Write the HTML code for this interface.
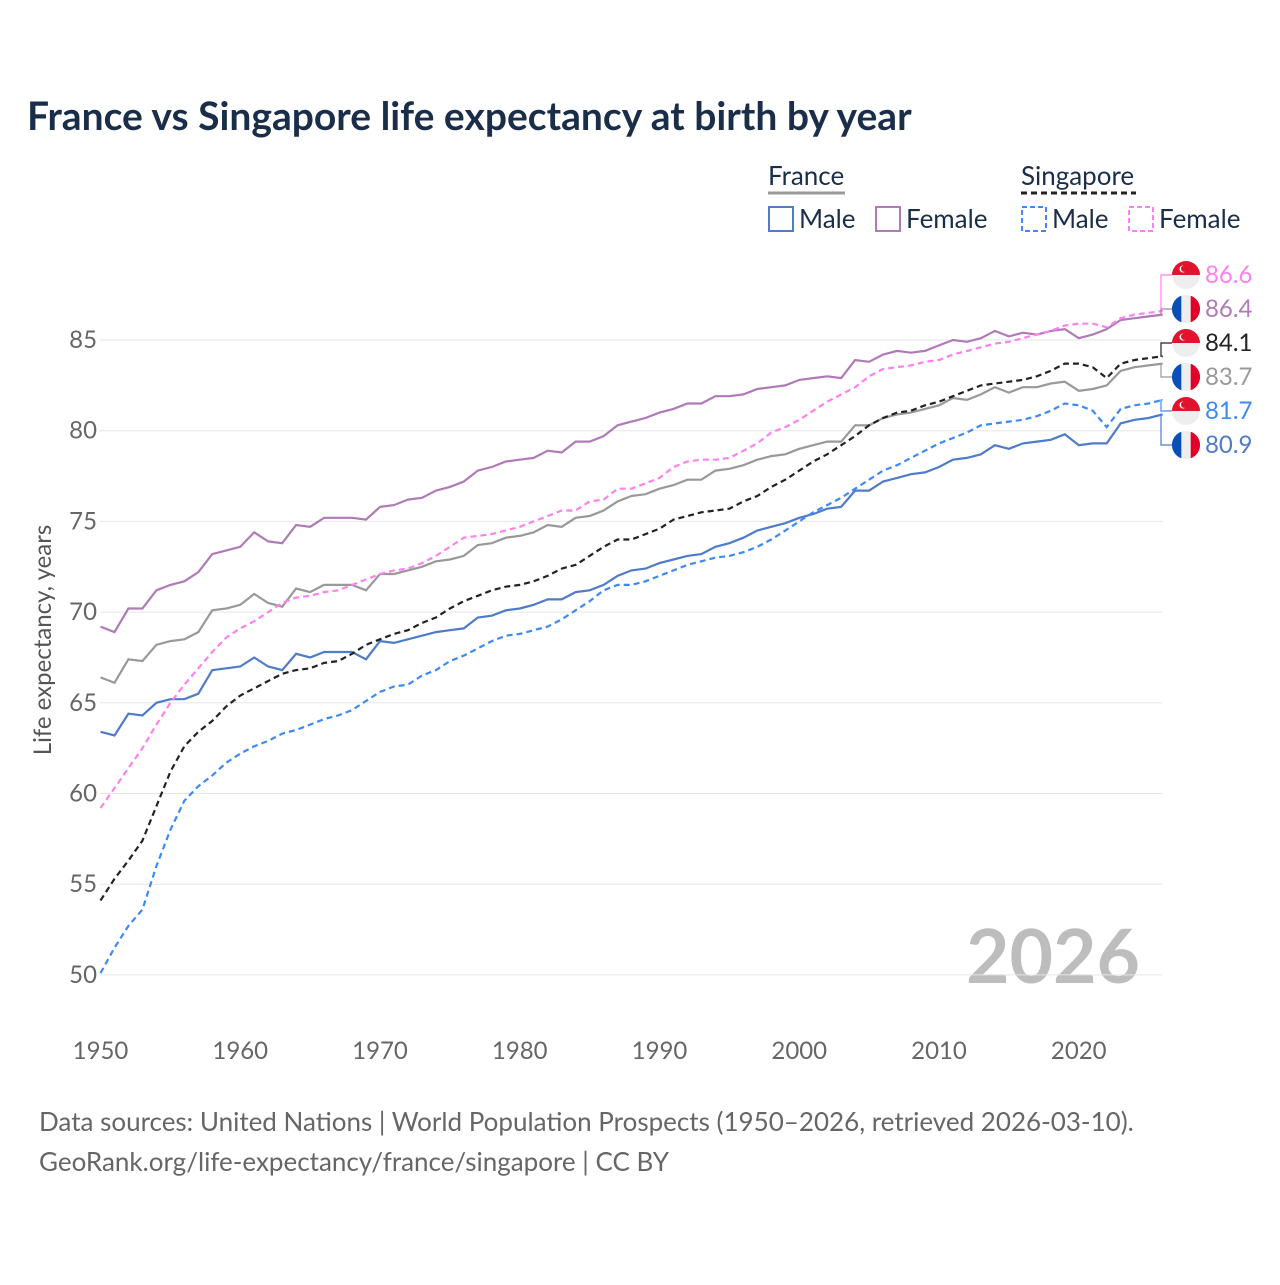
<!DOCTYPE html>
<html><head><meta charset="utf-8"><style>
body{margin:0;background:#fff;font-family:"Liberation Sans",sans-serif}
svg text{font-family:"Lato","Liberation Sans",sans-serif}
</style></head><body>
<svg id="chart" width="1280" height="1280" viewBox="0 0 1280 1280" xmlns="http://www.w3.org/2000/svg">
<rect width="1280" height="1280" fill="#fff"/>
<text x="27" y="130" font-size="39" font-weight="bold" fill="#1a2e4a">France vs Singapore life expectancy at birth by year</text>
<g font-size="26" fill="#333">
<text x="768" y="185" fill="#1a2e4a">France</text>
<line x1="768" y1="193" x2="845" y2="193" stroke="#999" stroke-width="3"/>
<text x="1021" y="185" fill="#1a2e4a">Singapore</text>
<line x1="1021" y1="193" x2="1136" y2="193" stroke="#222" stroke-width="3" stroke-dasharray="6,4"/>
<g><rect x="769" y="207" width="24" height="24" fill="none" stroke="#4f7bc8" stroke-width="2"/><text x="799" y="228" fill="#1a2e4a">Male</text></g>
<g><rect x="876" y="207" width="24" height="24" fill="none" stroke="#b07ab8" stroke-width="2"/><text x="906" y="228" fill="#1a2e4a">Female</text></g>
<g><rect x="1022" y="207" width="24" height="24" fill="none" stroke="#3d8af7" stroke-width="2" stroke-dasharray="5,3"/><text x="1052" y="228" fill="#1a2e4a">Male</text></g>
<g><rect x="1129" y="207" width="24" height="24" fill="none" stroke="#ff80ee" stroke-width="2" stroke-dasharray="5,3"/><text x="1159" y="228" fill="#1a2e4a">Female</text></g>
</g>
<text transform="translate(51,640) rotate(-90)" text-anchor="middle" font-size="24" fill="#555">Life expectancy, years</text>
<text x="1140" y="983" text-anchor="end" font-size="75" font-weight="bold" fill="#bdbdbd">2026</text>
<g id="grid"></g><g id="series"></g><g id="labels"></g>
<text x="39" y="1131" font-size="26" fill="#666">Data sources: United Nations | World Population Prospects (1950–2026, retrieved 2026-03-10).</text>
<text x="39" y="1171" font-size="26" fill="#666">GeoRank.org/life-expectancy/france/singapore | CC BY</text>
</svg>
<script>
const startYear = 1950;
const yTicks = [50,55,60,65,70,75,80,85];
const xTicks = [1950,1960,1970,1980,1990,2000,2010,2020];
const franceFemale = [69.2,68.9,70.2,70.2,71.2,71.5,71.7,72.2,73.2,73.4,73.6,74.4,73.9,73.8,74.8,74.7,75.2,75.2,75.2,75.1,75.8,75.9,76.2,76.3,76.7,76.9,77.2,77.8,78.0,78.3,78.4,78.5,78.9,78.8,79.4,79.4,79.7,80.3,80.5,80.7,81.0,81.2,81.5,81.5,81.9,81.9,82.0,82.3,82.4,82.5,82.8,82.9,83.0,82.9,83.9,83.8,84.2,84.4,84.3,84.4,84.7,85.0,84.9,85.1,85.5,85.2,85.4,85.3,85.5,85.6,85.1,85.3,85.6,86.1,86.2,86.3,86.4];
const franceTotal = [66.4,66.1,67.4,67.3,68.2,68.4,68.5,68.9,70.1,70.2,70.4,71.0,70.5,70.3,71.3,71.1,71.5,71.5,71.5,71.2,72.1,72.1,72.3,72.5,72.8,72.9,73.1,73.7,73.8,74.1,74.2,74.4,74.8,74.7,75.2,75.3,75.6,76.1,76.4,76.5,76.8,77.0,77.3,77.3,77.8,77.9,78.1,78.4,78.6,78.7,79.0,79.2,79.4,79.4,80.3,80.3,80.7,80.9,81.0,81.2,81.4,81.8,81.7,82.0,82.4,82.1,82.4,82.4,82.6,82.7,82.2,82.3,82.5,83.3,83.5,83.6,83.7];
const franceMale = [63.4,63.2,64.4,64.3,65.0,65.2,65.2,65.5,66.8,66.9,67.0,67.5,67.0,66.8,67.7,67.5,67.8,67.8,67.8,67.4,68.4,68.3,68.5,68.7,68.9,69.0,69.1,69.7,69.8,70.1,70.2,70.4,70.7,70.7,71.1,71.2,71.5,72.0,72.3,72.4,72.7,72.9,73.1,73.2,73.6,73.8,74.1,74.5,74.7,74.9,75.2,75.4,75.7,75.8,76.7,76.7,77.2,77.4,77.6,77.7,78.0,78.4,78.5,78.7,79.2,79.0,79.3,79.4,79.5,79.8,79.2,79.3,79.3,80.4,80.6,80.7,80.9];
const sgFemale = [59.2,60.3,61.4,62.5,63.8,65.0,66.0,66.9,67.8,68.6,69.1,69.5,70.0,70.5,70.8,70.9,71.1,71.2,71.5,71.8,72.1,72.3,72.4,72.7,73.1,73.6,74.1,74.2,74.3,74.5,74.7,75.0,75.3,75.6,75.6,76.1,76.2,76.8,76.8,77.1,77.4,78.0,78.3,78.4,78.4,78.5,78.9,79.3,79.9,80.2,80.6,81.1,81.6,82.0,82.4,83.0,83.4,83.5,83.6,83.8,83.9,84.2,84.4,84.6,84.8,84.9,85.1,85.3,85.5,85.8,85.9,85.9,85.7,86.2,86.4,86.5,86.6];
const sgTotal = [54.1,55.3,56.3,57.4,59.3,61.2,62.6,63.4,64.0,64.8,65.4,65.8,66.2,66.6,66.8,66.9,67.2,67.3,67.7,68.2,68.5,68.8,69.0,69.4,69.7,70.2,70.6,70.9,71.2,71.4,71.5,71.7,72.0,72.4,72.6,73.1,73.6,74.0,74.0,74.3,74.6,75.1,75.3,75.5,75.6,75.7,76.1,76.4,76.9,77.3,77.8,78.3,78.7,79.2,79.7,80.3,80.7,81.0,81.1,81.4,81.6,81.9,82.2,82.5,82.6,82.7,82.8,83.0,83.3,83.7,83.7,83.5,82.9,83.7,83.9,84.0,84.1];
const sgMale = [50.1,51.5,52.7,53.6,56.0,58.0,59.6,60.4,61.0,61.7,62.2,62.6,62.9,63.3,63.5,63.8,64.1,64.3,64.6,65.1,65.6,65.9,66.0,66.5,66.8,67.3,67.6,68.0,68.4,68.7,68.8,69.0,69.2,69.6,70.1,70.6,71.2,71.5,71.5,71.7,72.0,72.3,72.6,72.8,73.0,73.1,73.3,73.6,74.0,74.5,75.0,75.5,75.9,76.3,76.8,77.3,77.8,78.1,78.5,78.9,79.3,79.6,79.9,80.3,80.4,80.5,80.6,80.8,81.1,81.5,81.4,81.1,80.2,81.2,81.4,81.5,81.7];

const NS="http://www.w3.org/2000/svg";
const x = yr => 100.5 + (yr-1950)*13.975;
const y = v => 340 + (85-v)*18.14;
function mk(tag, attrs, parent){const e=document.createElementNS(NS,tag);for(const k in attrs)e.setAttribute(k,attrs[k]);parent.appendChild(e);return e;}
const grid=document.getElementById('grid'), ser=document.getElementById('series'), lab=document.getElementById('labels');
yTicks.forEach(t=>{
  const l=mk('line',{x1:100,x2:1162,y1:y(t),y2:y(t),stroke:'#e6e6e6','stroke-width':1},grid);
  
  
  const tx=mk('text',{x:97,y:y(t)+8,'text-anchor':'end','font-size':24,fill:'#666'},grid);
  
  
  tx.textContent=t;
});
xTicks.forEach(t=>{
  const tx=mk('text',{x:x(t),y:1059,'text-anchor':'middle','font-size':24,fill:'#666'},grid);
  
  
  tx.textContent=t;
});
const series=[
 ['france-female',franceFemale,'#b07ab8',null],
 ['france-total',franceTotal,'#999',null],
 ['france-male',franceMale,'#4f7bc8',null],
 ['singapore-female',sgFemale,'#ff80ee','6,4'],
 ['singapore-total',sgTotal,'#222','6,4'],
 ['singapore-male',sgMale,'#3d8af7','6,4']];
series.forEach(s=>{
  const d=s[1].map((v,i)=>(i?'L':'M')+x(startYear+i).toFixed(1)+','+y(v).toFixed(1)).join('');
  const a={d:d,fill:'none',stroke:s[2],'stroke-width':2.2};
  if(s[3])a['stroke-dasharray']=s[3];
  const p=mk('path',a,ser);
  
  
});
const endLabels=[
 ['singapore-female',sgFemale,'#ff80ee','sg',275],
 ['france-female',franceFemale,'#b07ab8','fr',309],
 ['singapore-total',sgTotal,'#222','sg',343],
 ['france-total',franceTotal,'#999','fr',377],
 ['singapore-male',sgMale,'#3d8af7','sg',411],
 ['france-male',franceMale,'#4f7bc8','fr',445]];
endLabels.forEach(e=>{
  const last=e[1][e[1].length-1], ly=e[4], ey=y(last), ex=x(startYear+e[1].length-1);
  const c=mk('path',{d:`M${ex},${ey}H1161V${ly}H1172`,fill:'none',stroke:e[2],'stroke-width':1.2},lab);
  
  
  const g=mk('g',{},lab);
  
  
  const cx=1186, r=14;
  if(e[3]==='fr'){
    mk('circle',{cx:cx,cy:ly,r:r,fill:'#eee'},g);
    mk('path',{d:`M${cx-4.7},${ly-13.2}A${r},${r} 0 0 0 ${cx-4.7},${ly+13.2}Z`,fill:'#0a4fb8'},g);
    mk('path',{d:`M${cx+4.7},${ly-13.2}A${r},${r} 0 0 1 ${cx+4.7},${ly+13.2}Z`,fill:'#e2002a'},g);
  } else {
    mk('circle',{cx:cx,cy:ly,r:r,fill:'#eee'},g);
    mk('path',{d:`M${cx-r},${ly}A${r},${r} 0 0 1 ${cx+r},${ly}Z`,fill:'#e2132f'},g);
    mk('circle',{cx:cx-3,cy:ly-6,r:3.5,fill:'#fff'},g);
    mk('circle',{cx:cx-1.8,cy:ly-6.3,r:3.2,fill:'#e2132f'},g);
  }
  const t=mk('text',{x:1205,y:ly+8,'font-size':24,fill:e[2]},lab);
  
  
  t.textContent=last.toFixed(1);
});
</script>
</body></html>
